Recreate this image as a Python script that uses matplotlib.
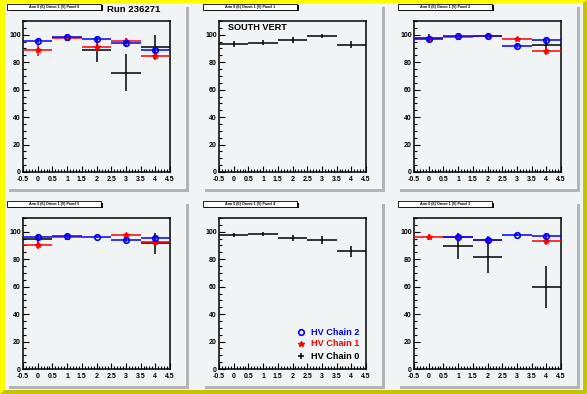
import numpy as np
import matplotlib
matplotlib.use("Agg")
import matplotlib.pyplot as plt
from matplotlib.patches import Rectangle, Polygon
from matplotlib.ticker import MultipleLocator, FuncFormatter

plt.rcParams['font.family'] = ['Liberation Sans', 'DejaVu Sans']

nan = np.nan
x_bins = [0, 1, 2, 3, 4]
bin_half_width = 0.5
run_label = "Run 236271"
panel_titles = ["Arm 0 (E) Orient 1 (V) Panel 0", "Arm 0 (E) Orient 1 (V) Panel 1",
                "Arm 0 (E) Orient 1 (V) Panel 2", "Arm 0 (E) Orient 1 (V) Panel 5",
                "Arm 0 (E) Orient 1 (V) Panel 4", "Arm 0 (E) Orient 1 (V) Panel 3"]
chain_labels = ["HV Chain 2", "HV Chain 1", "HV Chain 0"]
x_tick_labels = [-0.5, 0, 0.5, 1, 1.5, 2, 2.5, 3, 3.5, 4, 4.5]
y_tick_labels = [0, 20, 40, 60, 80, 100]

# Panel 0 (top-left)
p0_chain2 = [95.4, 98.3, 96.8, 93.9, 88.8]
p0_chain2_err = [1.5, 1.0, 1.5, 2.0, 2.5]
p0_chain1 = [88.8, 97.3, 91.2, 95.4, 84.4]
p0_chain1_err = [4.0, 2.0, 3.5, 2.5, 3.0]
p0_chain0 = [nan, nan, 89.0, 72.3, 91.0]
p0_chain0_err = [0, 0, 8.7, 13.5, 8.7]
# Panel 1 (top-middle)
p1_chain0 = [93.4, 94.2, 96.1, 99.0, 92.7]
p1_chain0_err = [2.0, 2.0, 2.0, 1.5, 2.5]
# Panel 2 (top-right)
p2_chain2 = [96.8, 99.0, 99.0, 91.7, 96.1]
p2_chain2_err = [1.5, 1.0, 1.0, 1.5, 1.5]
p2_chain1 = [97.6, 98.3, 99.0, 96.8, 88.1]
p2_chain1_err = [1.5, 1.0, 1.0, 1.5, 3.0]
p2_chain0 = [97.3, nan, nan, nan, 92.5]
p2_chain0_err = [3.0, 0, 0, 0, 4.0]
# Panel 5 (bottom-left)
p5_chain2 = [96.1, 96.9, 96.1, 93.9, 95.4]
p5_chain2_err = [1.5, 1.0, 1.0, 1.5, 1.5]
p5_chain1 = [90.3, 96.1, nan, 97.6, 92.2]
p5_chain1_err = [3.0, 1.5, 0, 1.5, 2.5]
p5_chain0 = [94.7, nan, nan, nan, 91.5]
p5_chain0_err = [4.0, 0, 0, 0, 7.5]
# Panel 4 (bottom-middle)
p4_chain0 = [97.6, 98.3, 95.4, 93.9, 85.9]
p4_chain0_err = [1.5, 1.5, 2.0, 3.0, 4.0]
# Panel 3 (bottom-right)
p3_chain2 = [nan, 96.1, 93.9, 97.6, 96.9]
p3_chain2_err = [0, 2.5, 3.0, 1.0, 1.5]
p3_chain1 = [96.1, 96.1, 93.9, nan, 93.2]
p3_chain1_err = [2.0, 1.5, 2.0, 0, 3.0]
p3_chain0 = [nan, 89.6, 81.5, nan, 59.6]
p3_chain0_err = [0, 9.5, 11.5, 0, 15.5]

panels = [
    dict(c0=(p0_chain0, p0_chain0_err), c1=(p0_chain1, p0_chain1_err), c2=(p0_chain2, p0_chain2_err)),
    dict(c0=(p1_chain0, p1_chain0_err)),
    dict(c0=(p2_chain0, p2_chain0_err), c1=(p2_chain1, p2_chain1_err), c2=(p2_chain2, p2_chain2_err)),
    dict(c0=(p5_chain0, p5_chain0_err), c1=(p5_chain1, p5_chain1_err), c2=(p5_chain2, p5_chain2_err)),
    dict(c0=(p4_chain0, p4_chain0_err)),
    dict(c0=(p3_chain0, p3_chain0_err), c1=(p3_chain1, p3_chain1_err), c2=(p3_chain2, p3_chain2_err)),
]

W, H = 587, 394
fig = plt.figure(figsize=(W / 100, H / 100), dpi=100, facecolor='#ffff00')

def fx(px):
    return px / W

def fy(py):
    return 1 - py / H

pad_color = '#f0f4f4'

# canvas bevel (darker right / bottom)
fig.patches.append(Polygon([[fx(W), fy(0)], [fx(W), fy(H)], [fx(0), fy(H)], [fx(4), fy(H - 4)],
                            [fx(W - 4), fy(H - 4)], [fx(W - 4), fy(3)]],
                           closed=True, transform=fig.transFigure, facecolor='#c4c400',
                           edgecolor='none', zorder=-5))
# canvas interior
fig.patches.append(Rectangle((fx(5), fy(390)), fx(578), 387 / H, transform=fig.transFigure,
                             facecolor=pad_color, edgecolor='none', zorder=-4))

pad_lefts = [6, 202, 397]
pad_tops = [4, 201]
pad_w, pad_h = 180, 185
shadow = 3

legend_colors = ['#0000ff', '#ff0000', '#000000']

axes = []
for i in range(6):
    r, c = divmod(i, 3)
    pl, pt = pad_lefts[c], pad_tops[r]
    # shadow
    fig.patches.append(Rectangle((fx(pl + shadow), fy(pt + pad_h + shadow)), fx(pad_w), pad_h / H,
                                 transform=fig.transFigure, facecolor='#b4b4b4', edgecolor='none', zorder=-3))
    fig.patches.append(Rectangle((fx(pl), fy(pt + pad_h)), fx(pad_w), pad_h / H,
                                 transform=fig.transFigure, facecolor=pad_color, edgecolor='none', zorder=-2))
    # title box
    bx, by, bw, bh = pl + 1, pt + 0, 94, 5.5
    fig.patches.append(Rectangle((fx(bx + 1.5), fy(by + bh + 1.5)), fx(bw), bh / H,
                                 transform=fig.transFigure, facecolor='black', edgecolor='none', zorder=-1))
    fig.patches.append(Rectangle((fx(bx), fy(by + bh)), fx(bw), bh / H,
                                 transform=fig.transFigure, facecolor='white', edgecolor='black',
                                 linewidth=0.6, zorder=-0.5))
    fig.text(fx(bx + bw / 2), fy(by + bh / 2), panel_titles[i], fontsize=2.6, fontweight='bold',
             ha='center', va='center', zorder=5)

    al, at, aw, ah = pl + 17, pt + 17, 147, 151
    ax = fig.add_axes([fx(al), fy(at + ah), fx(aw), ah / H])
    ax.set_zorder(2)
    ax.set_facecolor(pad_color)
    ax.set_xlim(-0.5, 4.5)
    ax.set_ylim(0, 110)
    for s in ax.spines.values():
        s.set_linewidth(1.1)
    ax.xaxis.set_minor_locator(MultipleLocator(0.1))
    ax.yaxis.set_minor_locator(MultipleLocator(5))
    ax.set_xticks(x_tick_labels)
    ax.set_yticks(y_tick_labels)
    ax.xaxis.set_major_formatter(FuncFormatter(lambda v, p: '%g' % v))
    ax.tick_params(which='both', direction='in', top=False, right=False, width=0.8)
    ax.tick_params(which='major', length=4, labelsize=5.0)
    ax.tick_params(axis='x', which='major', pad=2.8)
    ax.tick_params(axis='y', which='major', pad=1.5)
    ax.tick_params(which='minor', length=2)
    for lab in ax.get_xticklabels() + ax.get_yticklabels():
        lab.set_fontweight('bold')

    d = panels[i]
    if 'c0' in d:
        v, e = d['c0']
        ax.errorbar(x_bins, v, yerr=e, xerr=bin_half_width, fmt='none', ecolor='black',
                    elinewidth=1.1, capsize=0, zorder=3)
    if 'c1' in d:
        v, e = d['c1']
        ax.errorbar(x_bins, v, yerr=e, xerr=bin_half_width, fmt='*', color='#ff0000',
                    ecolor='#ff0000', markersize=4, elinewidth=1.1, capsize=0, zorder=4)
    if 'c2' in d:
        v, e = d['c2']
        ax.errorbar(x_bins, v, yerr=e, xerr=bin_half_width, fmt='o', color='#0000ff',
                    ecolor='#0000ff', markerfacecolor='none', markeredgecolor='#0000ff',
                    markeredgewidth=1.2, markersize=4, elinewidth=1.1, capsize=0, zorder=5)
    axes.append(ax)

# Run label
fig.text(fx(107), fy(9), run_label, fontsize=6.8, fontweight='bold', ha='left', va='center')
# SOUTH VERT
axes[1].text(0.06, 0.955, "SOUTH VERT", transform=axes[1].transAxes, fontsize=6.6,
             fontweight='bold', ha='left', va='center')

# Legend in bottom-middle panel
lax = axes[4]
ly = [0.245, 0.166, 0.086]
lax.plot([0.558], [ly[0]], 'o', transform=lax.transAxes, markerfacecolor='none',
         markeredgecolor='#0000ff', markeredgewidth=1.2, markersize=4)
lax.plot([0.558], [ly[1]], '*', transform=lax.transAxes, color='#ff0000', markersize=4)
lax.plot([0.558], [ly[2]], '+', transform=lax.transAxes, color='black', markersize=5, markeredgewidth=1.1)
for lbl, col, yy in zip(chain_labels, legend_colors, ly):
    lax.text(0.626, yy, lbl, transform=lax.transAxes, color=col, fontsize=6.6,
             fontweight='bold', ha='left', va='center')

fig.savefig("out.png", dpi=100, facecolor=fig.get_facecolor())
